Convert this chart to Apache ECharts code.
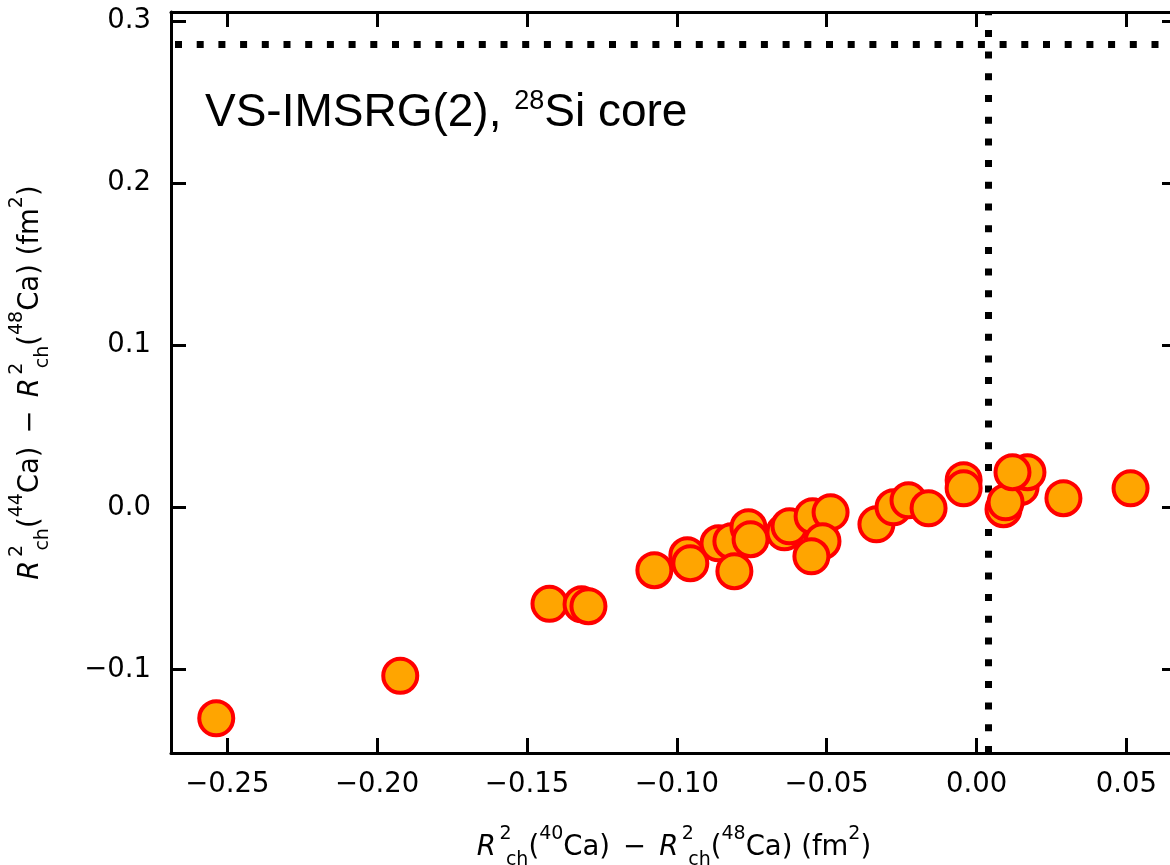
<!DOCTYPE html>
<html>
<head>
<meta charset="utf-8">
<script src="https://cdn.jsdelivr.net/npm/echarts@6/dist/echarts.min.js"></script>
<style>
  html, body { margin: 0; padding: 0; background: #fff; overflow: hidden; }
  #chart { width: 1170px; height: 865px; }
</style>
</head>
<body>
<div id="chart"></div>
<script>
// Charge-radius differences: x = R²ch(40Ca) − R²ch(48Ca), y = R²ch(44Ca) − R²ch(48Ca), in fm²
const xValues = [
  -0.2537, -0.1923, -0.1425, -0.1318, -0.1295, -0.1075, -0.0965, -0.0955,
  -0.0861, -0.0818, -0.0808, -0.0761, -0.0754, -0.0641, -0.0624, -0.0547,
  -0.0487, -0.0514, -0.0551, -0.0334, -0.0277, -0.0227, -0.0160, -0.0043,
  -0.0043, 0.0147, 0.0090, 0.0097, 0.0170, 0.0120, 0.0290, 0.0514
];
const yValues = [
  -0.1300, -0.1038, -0.0594, -0.0597, -0.0609, -0.0387, -0.0295, -0.0344,
  -0.0221, -0.0208, -0.0393, -0.0122, -0.0196, -0.0153, -0.0116, -0.0054,
  -0.0030, -0.0208, -0.0301, -0.0104, 0.0001, 0.0044, -0.0005, 0.0168,
  0.0118, 0.0125, -0.0011, 0.0032, 0.0217, 0.0217, 0.0057, 0.0118
];

// Reference values drawn as dotted lines
const refX = 0.004;
const refY = 0.2856;

// Axis ranges and ticks
const xRange = [-0.2688, 0.0669];
const yRange = [-0.1514, 0.3055];
const xTicks = [-0.25, -0.20, -0.15, -0.10, -0.05, 0.00, 0.05];
const xTickLabels = ['\u22120.25', '\u22120.20', '\u22120.15', '\u22120.10', '\u22120.05', '0.00', '0.05'];
const yTicks = [-0.1, 0.0, 0.1, 0.2, 0.3];
const yTickLabels = ['\u22120.1', '0.0', '0.1', '0.2', '0.3'];

const points = xValues.map((x, i) => [x, yValues[i]]);

function lookup(ticks, labels) {
  return function (v) {
    let best = 0;
    for (let i = 1; i < ticks.length; i++) {
      if (Math.abs(ticks[i] - v) < Math.abs(ticks[best] - v)) best = i;
    }
    return labels[best];
  };
}

const FONT = 'DejaVu Sans';
const FS = 27.5;
// Rich-text styles for the math-style axis titles (stacked super/subscripts)
const mathRich = {
  i: { fontFamily: FONT, fontStyle: 'italic', fontSize: FS, lineHeight: 45, color: '#000' },
  n: { fontFamily: FONT, fontSize: FS, lineHeight: 45, color: '#000' },
  op: { fontFamily: FONT, fontSize: FS, lineHeight: 45, color: '#000', padding: [0, 13, 0, 13] },
  supz: { fontFamily: FONT, fontSize: 19, lineHeight: 19, verticalAlign: 'top', width: 1, padding: [0, 0, 0, 9], color: '#000' },
  sup: { fontFamily: FONT, fontSize: 19, lineHeight: 19, verticalAlign: 'top', color: '#000' },
  sub: { fontFamily: FONT, fontSize: 19, lineHeight: 23, verticalAlign: 'bottom', color: '#000' }
};

function radiusTerm(a) {
  return '{i|R}{supz|2}{sub|ch}{n|(}{sup|' + a + '}{n|Ca)}';
}
const xName = radiusTerm(40) + '{op|\u2212}' + radiusTerm(48) + '{n| (fm}{sup|2}{n|)}';
const yName = radiusTerm(44) + '{op|\u2212}' + radiusTerm(48) + '{n| (fm}{sup|2}{n|)}';

const spine = { show: true, onZero: false, lineStyle: { color: '#000', width: 3 } };
const tickStyle = { show: true, inside: true, length: 15, lineStyle: { color: '#000', width: 3 } };
const labelStyle = { fontFamily: FONT, fontSize: FS, color: '#000' };

const chart = echarts.init(document.getElementById('chart'), null, { renderer: 'canvas' });

chart.setOption({
  animation: false,
  backgroundColor: '#fff',
  title: {
    left: 205,
    top: 88,
    padding: 0,
    text: '{m|VS-IMSRG(2), }{s|28}{m|Si core}',
    textStyle: {
      fontWeight: 'normal',
      rich: {
        m: { fontFamily: 'Liberation Sans', fontWeight: 'normal', fontSize: 46, lineHeight: 50, color: '#000' },
        s: { fontFamily: 'Liberation Sans', fontWeight: 'normal', fontSize: 27, lineHeight: 31, verticalAlign: 'top', color: '#000' }
      }
    }
  },
  grid: { left: 171, top: 12, right: -7, bottom: 112, outerBoundsMode: 'none' },
  xAxis: [
    {
      type: 'value', position: 'bottom', min: xRange[0], max: xRange[1],
      axisLine: spine,
      axisTick: Object.assign({ customValues: xTicks }, tickStyle),
      axisLabel: Object.assign({ customValues: xTicks, margin: 18, formatter: lookup(xTicks, xTickLabels) }, labelStyle),
      splitLine: { show: false },
      name: xName, nameLocation: 'middle', nameGap: 72,
      nameTextStyle: { rich: mathRich }
    },
    {
      type: 'value', position: 'top', min: xRange[0], max: xRange[1],
      axisLine: spine,
      axisTick: Object.assign({ customValues: xTicks }, tickStyle),
      axisLabel: { show: false },
      splitLine: { show: false }
    }
  ],
  yAxis: [
    {
      type: 'value', position: 'left', min: yRange[0], max: yRange[1],
      axisLine: spine,
      axisTick: Object.assign({ customValues: yTicks }, tickStyle),
      axisLabel: Object.assign({ customValues: yTicks, margin: 20, formatter: lookup(yTicks, yTickLabels) }, labelStyle),
      splitLine: { show: false },
      name: yName, nameLocation: 'middle', nameGap: 118, nameRotate: 90,
      nameTextStyle: { rich: mathRich }
    },
    {
      type: 'value', position: 'right', min: yRange[0], max: yRange[1],
      axisLine: spine,
      axisTick: Object.assign({ customValues: yTicks }, tickStyle),
      axisLabel: { show: false },
      splitLine: { show: false }
    }
  ],
  series: [
    {
      type: 'scatter',
      xAxisIndex: 0,
      yAxisIndex: 0,
      data: points,
      symbol: 'circle',
      symbolSize: 34,
      itemStyle: { color: '#FFA500', borderColor: '#FF0000', borderWidth: 4, opacity: 1 },
      emphasis: { disabled: true },
      z: 3,
      markLine: {
        silent: true,
        symbol: 'none',
        precision: 6,
        label: { show: false },
        lineStyle: { color: '#000', width: 7, type: [7, 14.7], cap: 'butt' },
        data: [
          { yAxis: refY, lineStyle: { dashOffset: 17.7 } },
          { xAxis: refX }
        ],
        z: 2
      }
    }
  ]
});
</script>
</body>
</html>
